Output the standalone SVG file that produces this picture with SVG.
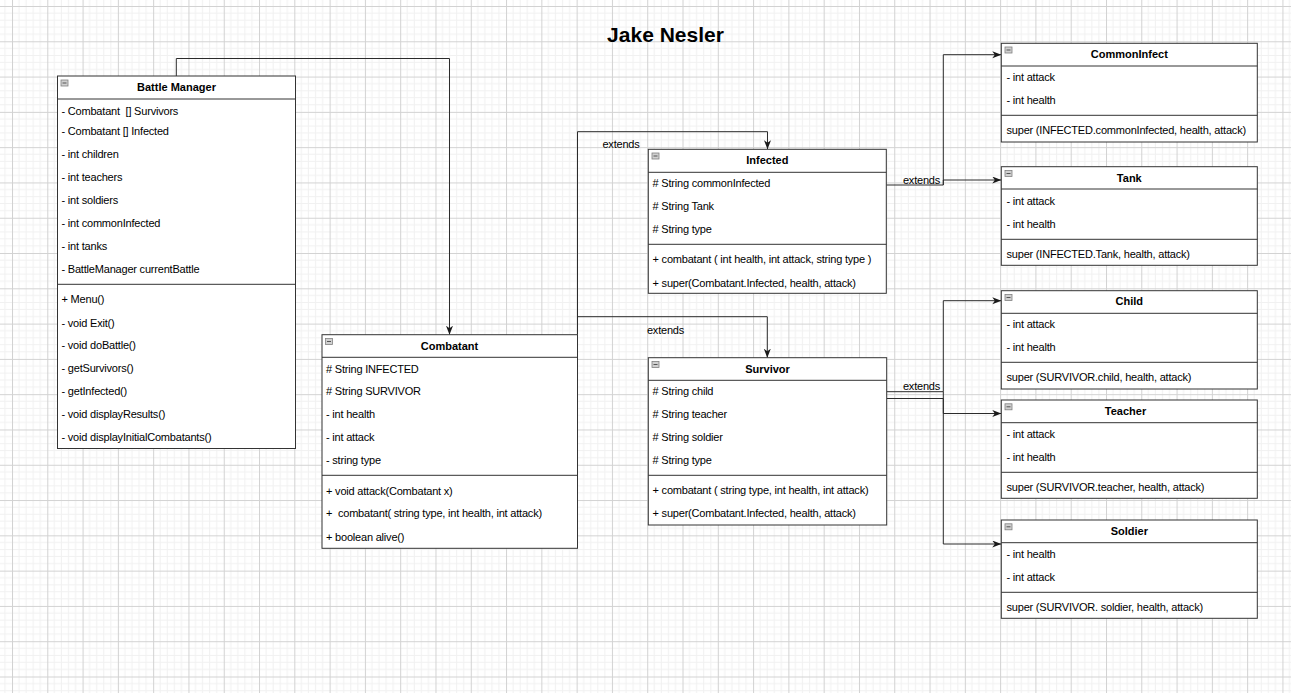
<svg xmlns="http://www.w3.org/2000/svg" width="1291" height="693" viewBox="0 0 1291 693">
<style>
text{font-family:"Liberation Sans",Arial,sans-serif;fill:#000;white-space:pre}
.t{font-size:11px;letter-spacing:-0.2px}
.h{font-size:11px;font-weight:bold;text-anchor:middle}
.title{font-size:21px;font-weight:bold;text-anchor:middle}
.box{fill:#fff;stroke:#333;stroke-width:1}
.sep{stroke:#333;stroke-width:1;fill:none}
.ico{fill:#d0d0d0;stroke:#808080;stroke-width:0.8}
.icl{stroke:#555;stroke-width:1}
.edge{fill:none;stroke:#2b2b2b;stroke-width:1}
.lbl{font-size:11px;text-anchor:middle;letter-spacing:-0.2px}
</style>
<defs>
<pattern id="grid" x="12" y="6" width="35.29" height="35.29" patternUnits="userSpaceOnUse">
<rect width="35.29" height="35.29" fill="#fff"/>
<path d="M7.06 0V35.29M14.12 0V35.29M21.18 0V35.29M28.24 0V35.29M0 7.06H35.29M0 14.12H35.29M0 21.18H35.29M0 28.24H35.29" stroke="#f1f1f1" stroke-width="1"/>
<path d="M0.5 0V35.29M0 0.5H35.29" stroke="#d2d2d2" stroke-width="1"/>
</pattern>
<marker id="arr" markerWidth="10" markerHeight="8" refX="9" refY="3.5" orient="auto" markerUnits="userSpaceOnUse">
<path d="M0,0 L9,3.5 L0,7 L2.5,3.5 z" fill="#1a1a1a"/>
</marker>
<g id="icon"><rect class="ico" x="0" y="0" width="7" height="6"/><path class="icl" d="M1.5 3H5.5"/></g>
</defs>
<rect width="1291" height="693" fill="url(#grid)"/>
<text class="title" x="665.5" y="42">Jake Nesler</text>

<g id="connectors">
<path class="edge" d="M176.3,76 V58.5 H449.5 V334.7" marker-end="url(#arr)"/>
<path class="edge" d="M577.5,334.7 V131.7 H767.5 V149.3" marker-end="url(#arr)"/>
<path class="edge" d="M577.5,316.7 H767.3 V357.7" marker-end="url(#arr)"/>
<path class="edge" d="M886.3,185 H943.3 V54.7 H1001.3" marker-end="url(#arr)"/>
<path class="edge" d="M943.3,185 V180 H1001.3" marker-end="url(#arr)"/>
<path class="edge" d="M886.7,391.7 H943.3 V300.7 H1001.3" marker-end="url(#arr)"/>
<path class="edge" d="M886.7,398.5 H943.3 V413.5 H1001.3" marker-end="url(#arr)"/>
<path class="edge" d="M943.3,391.7 V544 H1001.3" marker-end="url(#arr)"/>
<text class="lbl" x="621" y="148">extends</text>
<text class="lbl" x="665.5" y="334">extends</text>
<text class="lbl" x="921.5" y="184">extends</text>
<text class="lbl" x="921.5" y="390">extends</text>
</g>

<g id="battle-manager">
<rect class="box" x="57.5" y="76" width="238" height="372.5"/>
<path class="sep" d="M57.5 99H295.5M57.5 284.3H295.5"/>
<use href="#icon" x="61" y="80"/>
<text class="h" x="176.5" y="91">Battle Manager</text>
<text class="t" x="61.5" y="115">- Combatant  [] Survivors</text>
<text class="t" x="61.5" y="135">- Combatant [] Infected</text>
<text class="t" x="61.5" y="158.3">- int children</text>
<text class="t" x="61.5" y="181.3">- int teachers</text>
<text class="t" x="61.5" y="204.3">- int soldiers</text>
<text class="t" x="61.5" y="227.3">- int commonInfected</text>
<text class="t" x="61.5" y="250.3">- int tanks</text>
<text class="t" x="61.5" y="273.3">- BattleManager currentBattle</text>
<text class="t" x="61.5" y="303.3">+ Menu()</text>
<text class="t" x="61.5" y="327.3">- void Exit()</text>
<text class="t" x="61.5" y="349.3">- void doBattle()</text>
<text class="t" x="61.5" y="372.3">- getSurvivors()</text>
<text class="t" x="61.5" y="395.3">- getInfected()</text>
<text class="t" x="61.5" y="418.3">- void displayResults()</text>
<text class="t" x="61.5" y="441">- void displayInitialCombatants()</text>
</g>

<g id="combatant">
<rect class="box" x="322" y="334.7" width="255.5" height="213.6"/>
<path class="sep" d="M322 357.3H577.5M322 475.3H577.5"/>
<use href="#icon" x="325.5" y="338.5"/>
<text class="h" x="449.5" y="350">Combatant</text>
<text class="t" x="326" y="373.3"># String INFECTED</text>
<text class="t" x="326" y="395.3"># String SURVIVOR</text>
<text class="t" x="326" y="418.3">- int health</text>
<text class="t" x="326" y="441.3">- int attack</text>
<text class="t" x="326" y="464">- string type</text>
<text class="t" x="326" y="494.7">+ void attack(Combatant x)</text>
<text class="t" x="326" y="517.3">+  combatant( string type, int health, int attack)</text>
<text class="t" x="326" y="540.7">+ boolean alive()</text>
</g>

<g id="infected">
<rect class="box" x="648.3" y="149.3" width="238" height="144"/>
<path class="sep" d="M648.3 172.3H886.3M648.3 244.3H886.3"/>
<use href="#icon" x="652" y="153"/>
<text class="h" x="767.3" y="164.3">Infected</text>
<text class="t" x="652.5" y="187"># String commonInfected</text>
<text class="t" x="652.5" y="210.3"># String Tank</text>
<text class="t" x="652.5" y="233.3"># String type</text>
<text class="t" x="652.5" y="263.3">+ combatant ( int health, int attack, string type )</text>
<text class="t" x="652.5" y="286.7">+ super(Combatant.Infected, health, attack)</text>
</g>

<g id="survivor">
<rect class="box" x="648.3" y="357.7" width="238.4" height="167.3"/>
<path class="sep" d="M648.3 380.3H886.7M648.3 475.3H886.7"/>
<use href="#icon" x="652" y="361.5"/>
<text class="h" x="767.5" y="373.3">Survivor</text>
<text class="t" x="652.5" y="395"># String child</text>
<text class="t" x="652.5" y="418.3"># String teacher</text>
<text class="t" x="652.5" y="441.3"># String soldier</text>
<text class="t" x="652.5" y="464.3"># String type</text>
<text class="t" x="652.5" y="494.3">+ combatant ( string type, int health, int attack)</text>
<text class="t" x="652.5" y="517">+ super(Combatant.Infected, health, attack)</text>
</g>

<g id="common-infect">
<rect class="box" x="1001.3" y="43.3" width="256" height="98.7"/>
<path class="sep" d="M1001.3 66H1257.3M1001.3 115.3H1257.3"/>
<use href="#icon" x="1005" y="47"/>
<text class="h" x="1129.3" y="58.3">CommonInfect</text>
<text class="t" x="1006.5" y="81.3">- int attack</text>
<text class="t" x="1006.5" y="104.3">- int health</text>
<text class="t" x="1006.5" y="134">super (INFECTED.commonInfected, health, attack)</text>
</g>

<g id="tank">
<rect class="box" x="1001.3" y="166.7" width="256" height="98.6"/>
<path class="sep" d="M1001.3 189H1257.3M1001.3 239.3H1257.3"/>
<use href="#icon" x="1005" y="170.5"/>
<text class="h" x="1129.3" y="181.7">Tank</text>
<text class="t" x="1006.5" y="205.3">- int attack</text>
<text class="t" x="1006.5" y="228">- int health</text>
<text class="t" x="1006.5" y="258">super (INFECTED.Tank, health, attack)</text>
</g>

<g id="child">
<rect class="box" x="1001.3" y="290.7" width="256" height="98.3"/>
<path class="sep" d="M1001.3 313.3H1257.3M1001.3 362.3H1257.3"/>
<use href="#icon" x="1005" y="294.5"/>
<text class="h" x="1129.3" y="305">Child</text>
<text class="t" x="1006.5" y="328">- int attack</text>
<text class="t" x="1006.5" y="351">- int health</text>
<text class="t" x="1006.5" y="381.3">super (SURVIVOR.child, health, attack)</text>
</g>

<g id="teacher">
<rect class="box" x="1001.3" y="400" width="256" height="98.3"/>
<path class="sep" d="M1001.3 422.7H1257.3M1001.3 472.3H1257.3"/>
<use href="#icon" x="1005" y="403.8"/>
<text class="h" x="1125.5" y="415">Teacher</text>
<text class="t" x="1006.5" y="438">- int attack</text>
<text class="t" x="1006.5" y="461">- int health</text>
<text class="t" x="1006.5" y="491.3">super (SURVIVOR.teacher, health, attack)</text>
</g>

<g id="soldier">
<rect class="box" x="1001.3" y="520" width="256" height="98.3"/>
<path class="sep" d="M1001.3 542.7H1257.3M1001.3 592.3H1257.3"/>
<use href="#icon" x="1005" y="523.8"/>
<text class="h" x="1129.3" y="535">Soldier</text>
<text class="t" x="1006.5" y="558">- int health</text>
<text class="t" x="1006.5" y="581">- int attack</text>
<text class="t" x="1006.5" y="611">super (SURVIVOR. soldier, health, attack)</text>
</g>
</svg>
